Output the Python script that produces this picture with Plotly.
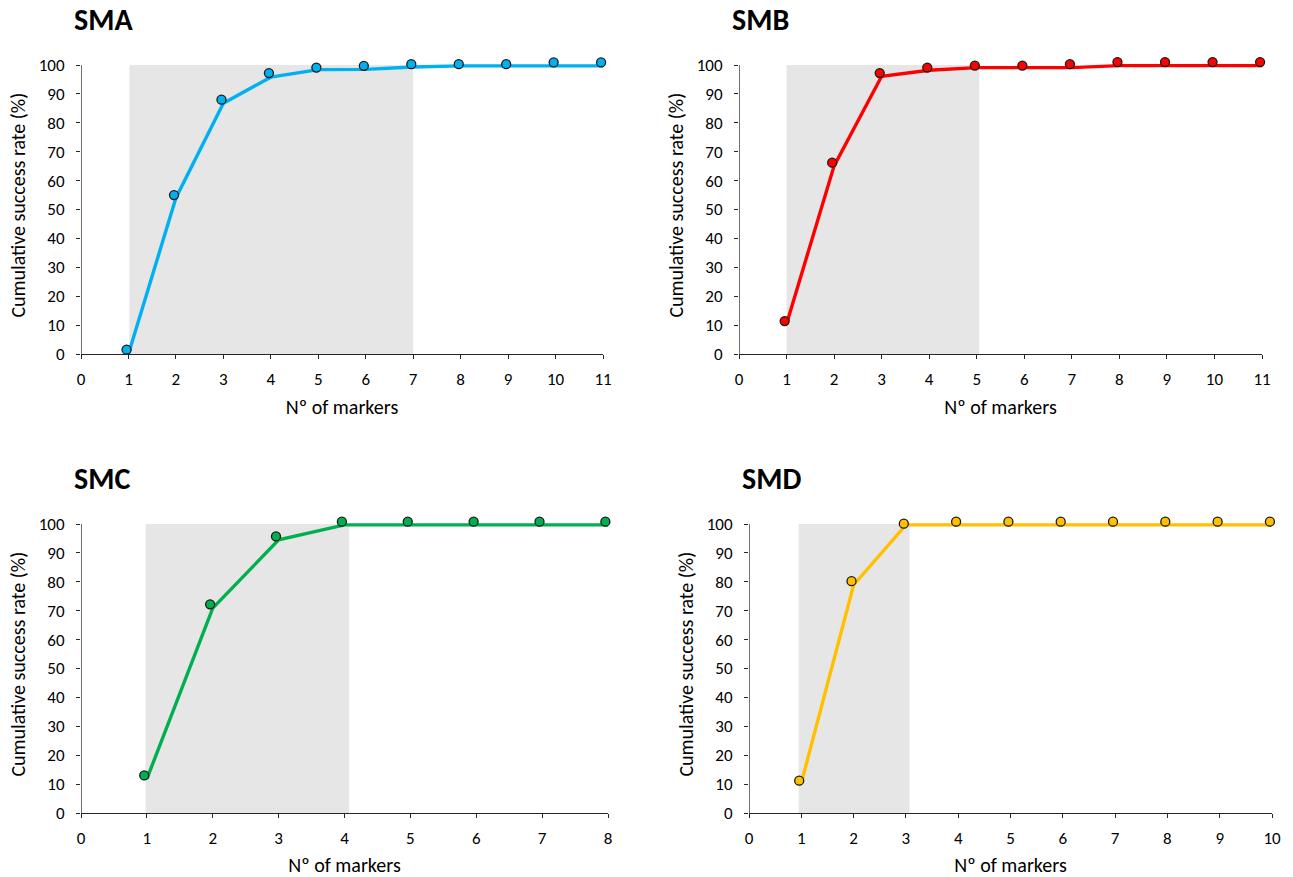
import plotly.graph_objects as go

# ---- data ----
panels = ["SMA", "SMB", "SMC", "SMD"]
colors = ["#00B0F0", "#FF0000", "#00B050", "#FFC000"]

sma_x = [1, 2, 3, 4, 5, 6, 7, 8, 9, 10, 11]
sma_line = [0, 54, 86.8, 95.8, 98.4, 98.5, 99.3, 99.7, 99.7, 99.7, 99.7]
sma_mark = [1.5, 55, 88, 97.2, 99.1, 99.7, 100.3, 100.3, 100.3, 100.9, 100.9]

smb_x = [1, 2, 3, 4, 5, 6, 7, 8, 9, 10, 11]
smb_line = [10.4, 65.1, 96.1, 98.2, 99.1, 99.1, 99.1, 99.8, 99.8, 99.8, 99.8]
smb_mark = [11.4, 66.2, 97.2, 99.1, 99.8, 99.8, 100.3, 101, 101, 101, 101]

smc_x = [1, 2, 3, 4, 5, 6, 7, 8]
smc_line = [11.8, 70.9, 94.5, 99.7, 99.7, 99.7, 99.7, 99.7]
smc_mark = [13.0, 72.2, 95.7, 100.8, 100.8, 100.8, 100.8, 100.8]

smd_x = [1, 2, 3, 4, 5, 6, 7, 8, 9, 10]
smd_line = [10.4, 78.9, 99.7, 99.7, 99.7, 99.7, 99.7, 99.7, 99.7, 99.7]
smd_mark = [11.2, 80.2, 100.1, 100.8, 100.8, 100.8, 100.8, 100.8, 100.8, 100.8]

marker_shift = -0.04  # markers sit slightly left of the line vertices

x_max = [11, 11, 8, 10]
y_ticks = list(range(0, 101, 10))
shade_ranges = [(1.02, 7.0), (1.0, 5.05), (0.98, 4.07), (0.95, 3.07)]

series = [(sma_x, sma_line, sma_mark), (smb_x, smb_line, smb_mark),
          (smc_x, smc_line, smc_mark), (smd_x, smd_line, smd_mark)]

# ---- layout geometry (pixels) ----
W, H = 1293, 877
Y_TOP = 103  # headroom so markers just above 100 stay visible
xpix = [(81, 603), (739, 1262), (81, 608), (749, 1272)]
ypix0 = [354, 354, 813, 813]   # pixel of y=0
ypix100 = [65, 65, 524, 524]   # pixel of y=100

FONT = "Carlito, Calibri, Lato, sans-serif"
AX = "#262626"

fig = go.Figure()
layout = dict(width=W, height=H, margin=dict(l=0, r=0, t=0, b=0),
              paper_bgcolor="white", plot_bgcolor="white", showlegend=False,
              font=dict(family=FONT, color="#000000"))
shapes = []
annotations = []

for i, (name, col, (xs, yl, ym), xm, sh) in enumerate(zip(panels, colors, series, x_max, shade_ranges)):
    k = "" if i == 0 else str(i + 1)
    xa, ya = "x" + k, "y" + k
    per = (ypix0[i] - ypix100[i]) / 100.0
    top_pix = ypix0[i] - Y_TOP * per
    fig.add_trace(go.Scatter(x=xs, y=yl, mode="lines", line=dict(color=col, width=3.4),
                             xaxis=xa, yaxis=ya, cliponaxis=False, hoverinfo="skip"))
    fig.add_trace(go.Scatter(x=[v + marker_shift for v in xs], y=ym, mode="markers",
                             marker=dict(color=col, size=9, line=dict(color="#1a1a1a", width=1.3)),
                             xaxis=xa, yaxis=ya, cliponaxis=False))
    layout["xaxis" + k] = dict(domain=[xpix[i][0] / W, xpix[i][1] / W], anchor=ya, range=[0, xm],
                               tickmode="linear", tick0=0, dtick=1, showline=True, linecolor=AX,
                               linewidth=1.3, ticks="outside", ticklen=4, tickcolor=AX, tickwidth=1.3,
                               showgrid=False, zeroline=False, ticklabelstandoff=5, automargin=False,
                               tickfont=dict(size=17, family=FONT, color="#000"),
                               title=dict(text="Nº of markers", font=dict(size=20, family=FONT, color="#000"),
                                          standoff=11))
    layout["yaxis" + k] = dict(domain=[(H - ypix0[i]) / H, (H - top_pix) / H], anchor=xa,
                               range=[0, Y_TOP], tickmode="array", tickvals=y_ticks,
                               showline=False, ticks="outside", ticklen=4, tickcolor=AX, tickwidth=1.3,
                               showgrid=False, zeroline=False, ticklabelstandoff=8, automargin=False,
                               tickfont=dict(size=17, family=FONT, color="#000"),
                               title=dict(text="Cumulative success rate (%)",
                                          font=dict(size=20, family=FONT, color="#000"), standoff=7))
    shapes.append(dict(type="rect", xref=xa, yref=ya, x0=sh[0], x1=sh[1], y0=0, y1=100,
                       fillcolor="#E6E6E6", line=dict(width=0), layer="below"))
    # y axis line spanning 0..100 only
    shapes.append(dict(type="line", xref=xa, yref=ya, x0=0, x1=0, y0=0, y1=100,
                       line=dict(color=AX, width=1.3), layer="above"))
    annotations.append(dict(text="<b>" + name + "</b>", xref="paper", yref="paper",
                            x=(xpix[i][0] - 9) / W, y=(H - (ypix100[i] - 45)) / H,
                            xanchor="left", yanchor="middle", showarrow=False,
                            font=dict(size=30, family=FONT, color="#000")))

layout["shapes"] = shapes
layout["annotations"] = annotations
fig.update_layout(**layout)
fig.write_html("out.html")
